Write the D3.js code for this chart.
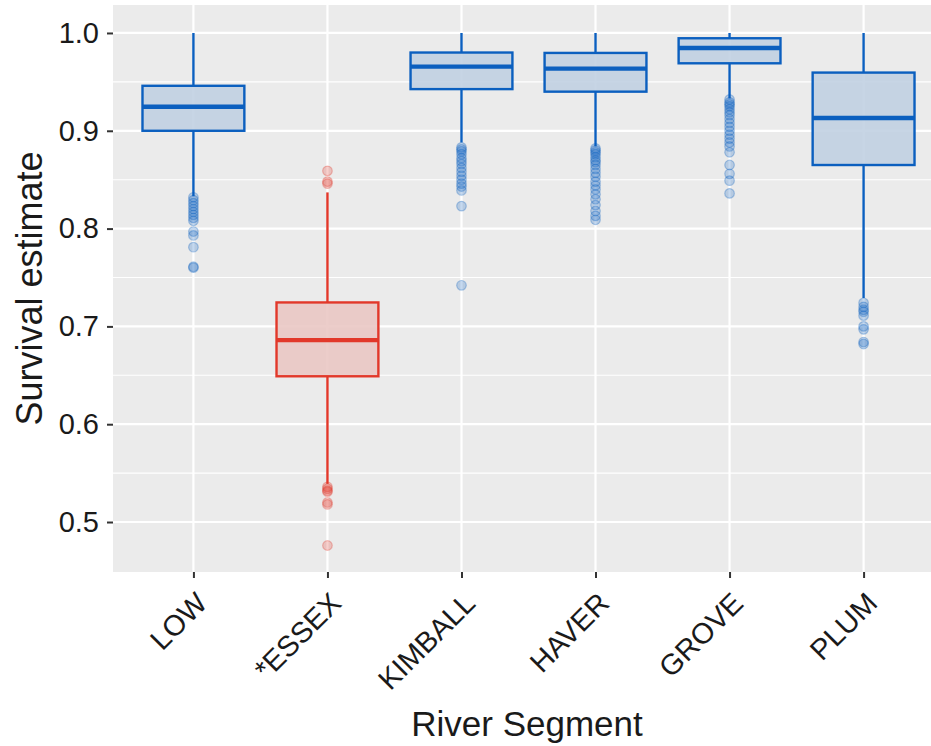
<!DOCTYPE html>
<html>
<head>
<meta charset="utf-8">
<script src="https://cdn.jsdelivr.net/npm/d3@7"></script>
<style>
  body { margin: 0; background: #fff; }
  text { font-family: "Liberation Sans", Arial, sans-serif; }
</style>
</head>
<body>
<div id="chart"></div>
<script>
// River segments and box statistics
const segments = ["LOW", "*ESSEX", "KIMBALL", "HAVER", "GROVE", "PLUM"];
const whiskerHigh = [1.0, 0.837, 1.0, 1.0, 1.0, 1.0];
const q3 = [0.946, 0.7245, 0.980, 0.9796, 0.9946, 0.9595];
const medians = [0.9245, 0.686, 0.9656, 0.9636, 0.9847, 0.913];
const q1 = [0.900, 0.649, 0.9426, 0.940, 0.969, 0.865];
const whiskerLow = [0.833, 0.539, 0.888, 0.884, 0.933, 0.729];
const flagged = ["*ESSEX"];

// outlying posterior draws, per segment
const outliers = [
  [0.832, 0.829, 0.826, 0.823, 0.820, 0.817, 0.814, 0.811, 0.808, 0.797, 0.793, 0.781, 0.761, 0.760],
  [0.859, 0.848, 0.846, 0.536, 0.534, 0.532, 0.531, 0.520, 0.518, 0.476],
  [0.883, 0.881, 0.879, 0.876, 0.872, 0.869, 0.866, 0.862, 0.858, 0.854, 0.850, 0.846, 0.843, 0.839, 0.823, 0.742],
  [0.882, 0.880, 0.878, 0.876, 0.873, 0.870, 0.868, 0.865, 0.861, 0.857, 0.853, 0.848, 0.844, 0.840, 0.835, 0.830, 0.824, 0.818, 0.813, 0.809],
  [0.932, 0.929, 0.927, 0.925, 0.922, 0.919, 0.916, 0.912, 0.908, 0.904, 0.900, 0.896, 0.892, 0.888, 0.884, 0.878, 0.865, 0.856, 0.849, 0.836],
  [0.724, 0.720, 0.717, 0.715, 0.711, 0.700, 0.697, 0.684, 0.682]
];
const yTicks = [0.5, 0.6, 0.7, 0.8, 0.9, 1.0];
const yMinor = [0.55, 0.65, 0.75, 0.85, 0.95];

const boxes = segments.map((name, i) => ({
  name: name,
  hi: whiskerHigh[i], q3: q3[i], med: medians[i], q1: q1[i], lo: whiskerLow[i],
  out: outliers[i]
}));

const W = 931, H = 746;
const margin = { top: 5, right: -13, bottom: 174, left: 113 };
const width = W - margin.left - margin.right,
  height = H - margin.top - margin.bottom;

const blue = "#0b5fbf", blueFill = "#bfcfe1";
const red = "#e2382a", redFill = "#e9c6c3";
const strokeOf = d => flagged.includes(d.name) ? red : blue;
const fillOf = d => flagged.includes(d.name) ? redFill : blueFill;

const svg = d3.select("#chart").append("svg")
  .attr("width", W)
  .attr("height", H);

const g = svg.append("g")
  .attr("transform", "translate(" + margin.left + "," + margin.top + ")");

// Scales
const x = d3.scalePoint()
  .domain(segments)
  .range([0, width])
  .padding(0.6);

const y = d3.scaleLinear()
  .domain([0.4489, 1.0286])
  .range([height, 0]);

const boxW = x.step() * 0.76;

// Panel background + grid
g.append("rect")
  .attr("width", width)
  .attr("height", height)
  .attr("fill", "#ebebeb");

g.selectAll(".minor").data(yMinor).enter().append("line")
  .attr("x1", 0).attr("x2", width)
  .attr("y1", d => y(d)).attr("y2", d => y(d))
  .attr("stroke", "#fff").attr("stroke-width", 1.1);

g.selectAll(".major-y").data(yTicks).enter().append("line")
  .attr("x1", 0).attr("x2", width)
  .attr("y1", d => y(d)).attr("y2", d => y(d))
  .attr("stroke", "#fff").attr("stroke-width", 2.2);

g.selectAll(".major-x").data(segments).enter().append("line")
  .attr("x1", d => x(d)).attr("x2", d => x(d))
  .attr("y1", 0).attr("y2", height)
  .attr("stroke", "#fff").attr("stroke-width", 2.2);

// Boxplots
const bx = g.selectAll(".box").data(boxes).enter().append("g")
  .attr("class", "box");

bx.append("line")
  .attr("x1", d => x(d.name)).attr("x2", d => x(d.name))
  .attr("y1", d => y(d.hi)).attr("y2", d => y(d.q3))
  .attr("stroke", strokeOf).attr("stroke-width", 2.4);

bx.append("line")
  .attr("x1", d => x(d.name)).attr("x2", d => x(d.name))
  .attr("y1", d => y(d.q1)).attr("y2", d => y(d.lo))
  .attr("stroke", strokeOf).attr("stroke-width", 2.4);

bx.append("rect")
  .attr("x", d => x(d.name) - boxW / 2)
  .attr("y", d => y(d.q3))
  .attr("width", boxW)
  .attr("height", d => y(d.q1) - y(d.q3))
  .attr("fill", fillOf)
  .attr("fill-opacity", 0.88)
  .attr("stroke", strokeOf)
  .attr("stroke-width", 2.4);

bx.append("line")
  .attr("x1", d => x(d.name) - boxW / 2).attr("x2", d => x(d.name) + boxW / 2)
  .attr("y1", d => y(d.med)).attr("y2", d => y(d.med))
  .attr("stroke", strokeOf).attr("stroke-width", 4.4);

bx.selectAll("circle")
  .data(d => d.out.map(v => ({ name: d.name, v: v })))
  .enter().append("circle")
  .attr("cx", d => x(d.name))
  .attr("cy", d => y(d.v))
  .attr("r", 4.8)
  .attr("fill", strokeOf)
  .attr("fill-opacity", 0.24)
  .attr("stroke", strokeOf)
  .attr("stroke-opacity", 0.3)
  .attr("stroke-width", 1.2);

// Axes
const yAxis = d3.axisLeft(y).tickValues(yTicks).tickFormat(d3.format(".1f"))
  .tickSize(6).tickPadding(8);
const gy = g.append("g").call(yAxis);
gy.select(".domain").remove();
gy.selectAll(".tick line").attr("stroke", "#333").attr("stroke-width", 2);
gy.selectAll(".tick text").attr("fill", "#1a1a1a").style("font-size", "29px");

const xAxis = d3.axisBottom(x).tickSize(6).tickPadding(4);
const gx = g.append("g")
  .attr("transform", "translate(0," + height + ")")
  .call(xAxis);
gx.select(".domain").remove();
gx.selectAll(".tick line").attr("stroke", "#333").attr("stroke-width", 2);
gx.selectAll(".tick text")
  .attr("fill", "#1a1a1a")
  .style("font-size", "29px")
  .attr("text-anchor", "end")
  .attr("dy", null)
  .attr("y", 0)
  .attr("transform", "translate(15,33) rotate(-45)");

// Axis titles
svg.append("text")
  .attr("transform", "translate(42," + (margin.top + height / 2) + ") rotate(-90)")
  .attr("text-anchor", "middle")
  .style("font-size", "36px")
  .attr("fill", "#1a1a1a")
  .text("Survival estimate");

svg.append("text")
  .attr("x", 527)
  .attr("y", 736)
  .attr("text-anchor", "middle")
  .style("font-size", "35px")
  .attr("fill", "#1a1a1a")
  .text("River Segment");
</script>
</body>
</html>
